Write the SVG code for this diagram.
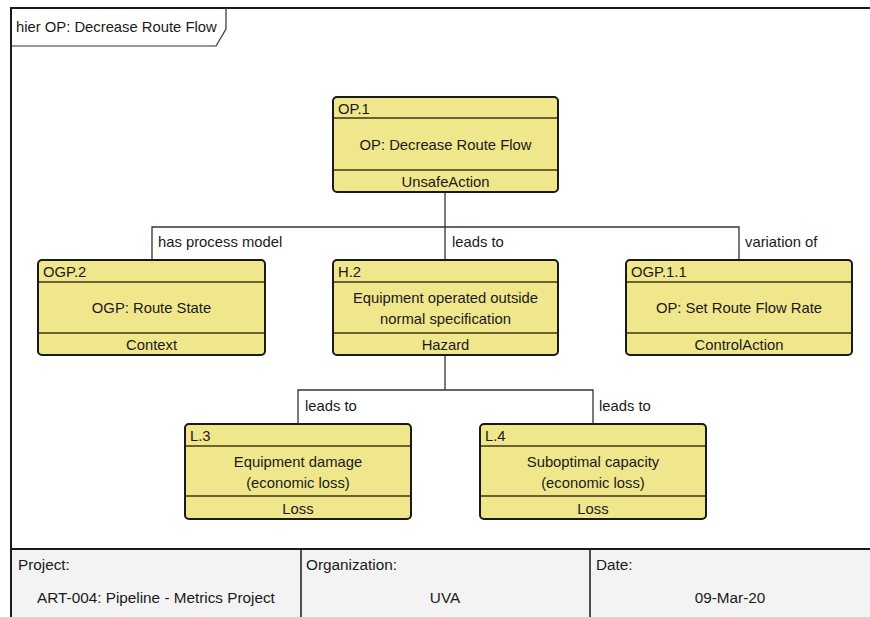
<svg xmlns="http://www.w3.org/2000/svg" width="870" height="617" viewBox="0 0 870 617">
<style>
text{font-family:"Liberation Sans",Arial,sans-serif;font-size:14.8px;fill:#1a1a1a}
.c{text-anchor:middle}
.f{font-size:15.3px}
.box{fill:#f0e68c;stroke:#1a1a1a;stroke-width:2}
.sep{stroke:#6b6232;stroke-width:2}
.con{fill:none;stroke:#333;stroke-width:1.3}
.frame{fill:none;stroke:#1a1a1a;stroke-width:2}
</style>
<rect x="0" y="0" width="870" height="617" fill="#ffffff"/>
<rect x="11" y="549" width="859" height="68" fill="#f3f3f3"/>
<path class="frame" d="M11,617 V8 H870"/>
<line x1="11" y1="549" x2="870" y2="549" stroke="#1a1a1a" stroke-width="2"/>
<line x1="301" y1="549" x2="301" y2="617" stroke="#1a1a1a" stroke-width="1.5"/>
<line x1="590" y1="549" x2="590" y2="617" stroke="#1a1a1a" stroke-width="1.5"/>
<g id="title">
<path d="M11,46 H216 L226,29 V8" fill="none" stroke="#333" stroke-width="1.2"/>
<text x="16" y="32">hier OP: Decrease Route Flow</text>
</g>
<g id="connectors">
<path class="con" d="M445,192 V260"/>
<path class="con" d="M152,260 V227 H739 V260"/>
<path class="con" d="M445,355 V390"/>
<path class="con" d="M298,423 V390 H593 V423"/>
<text x="158" y="247">has process model</text>
<text x="452" y="247">leads to</text>
<text x="745" y="247">variation of</text>
<text x="305" y="411">leads to</text>
<text x="599" y="411">leads to</text>
</g>
<g id="OP1">
<rect class="box" x="333" y="97" width="225" height="95" rx="4"/>
<line class="sep" x1="334" y1="118" x2="557" y2="118"/>
<line class="sep" x1="334" y1="170" x2="557" y2="170"/>
<text x="338" y="114">OP.1</text>
<text class="c" x="445.5" y="150">OP: Decrease Route Flow</text>
<text class="c" x="445.5" y="187">UnsafeAction</text>
</g>
<g id="OGP2">
<rect class="box" x="38" y="260" width="227" height="95" rx="4"/>
<line class="sep" x1="39" y1="282" x2="264" y2="282"/>
<line class="sep" x1="39" y1="333" x2="264" y2="333"/>
<text x="43" y="277">OGP.2</text>
<text class="c" x="151.5" y="313">OGP: Route State</text>
<text class="c" x="151.5" y="350">Context</text>
</g>
<g id="H2">
<rect class="box" x="333" y="260" width="225" height="95" rx="4"/>
<line class="sep" x1="334" y1="282" x2="557" y2="282"/>
<line class="sep" x1="334" y1="333" x2="557" y2="333"/>
<text x="338" y="277">H.2</text>
<text class="c" x="445.5" y="303">Equipment operated outside</text>
<text class="c" x="445.5" y="324">normal specification</text>
<text class="c" x="445.5" y="350">Hazard</text>
</g>
<g id="OGP11">
<rect class="box" x="626" y="260" width="226" height="95" rx="4"/>
<line class="sep" x1="627" y1="282" x2="851" y2="282"/>
<line class="sep" x1="627" y1="333" x2="851" y2="333"/>
<text x="631" y="277">OGP.1.1</text>
<text class="c" x="739" y="313">OP: Set Route Flow Rate</text>
<text class="c" x="739" y="350">ControlAction</text>
</g>
<g id="L3">
<rect class="box" x="185" y="424" width="226" height="95" rx="4"/>
<line class="sep" x1="186" y1="446" x2="410" y2="446"/>
<line class="sep" x1="186" y1="496" x2="410" y2="496"/>
<text x="190" y="441">L.3</text>
<text class="c" x="298" y="467">Equipment damage</text>
<text class="c" x="298" y="488">(economic loss)</text>
<text class="c" x="298" y="514">Loss</text>
</g>
<g id="L4">
<rect class="box" x="480" y="424" width="226" height="95" rx="4"/>
<line class="sep" x1="481" y1="446" x2="705" y2="446"/>
<line class="sep" x1="481" y1="496" x2="705" y2="496"/>
<text x="485" y="441">L.4</text>
<text class="c" x="593" y="467">Suboptimal capacity</text>
<text class="c" x="593" y="488">(economic loss)</text>
<text class="c" x="593" y="514">Loss</text>
</g>
<g id="footer">
<text class="f" x="18" y="570">Project:</text>
<text class="c f" x="156" y="603">ART-004: Pipeline - Metrics Project</text>
<text class="f" x="306" y="570">Organization:</text>
<text class="c f" x="445" y="603">UVA</text>
<text class="f" x="596" y="570">Date:</text>
<text class="c f" x="730" y="603">09-Mar-20</text>
</g>
</svg>
